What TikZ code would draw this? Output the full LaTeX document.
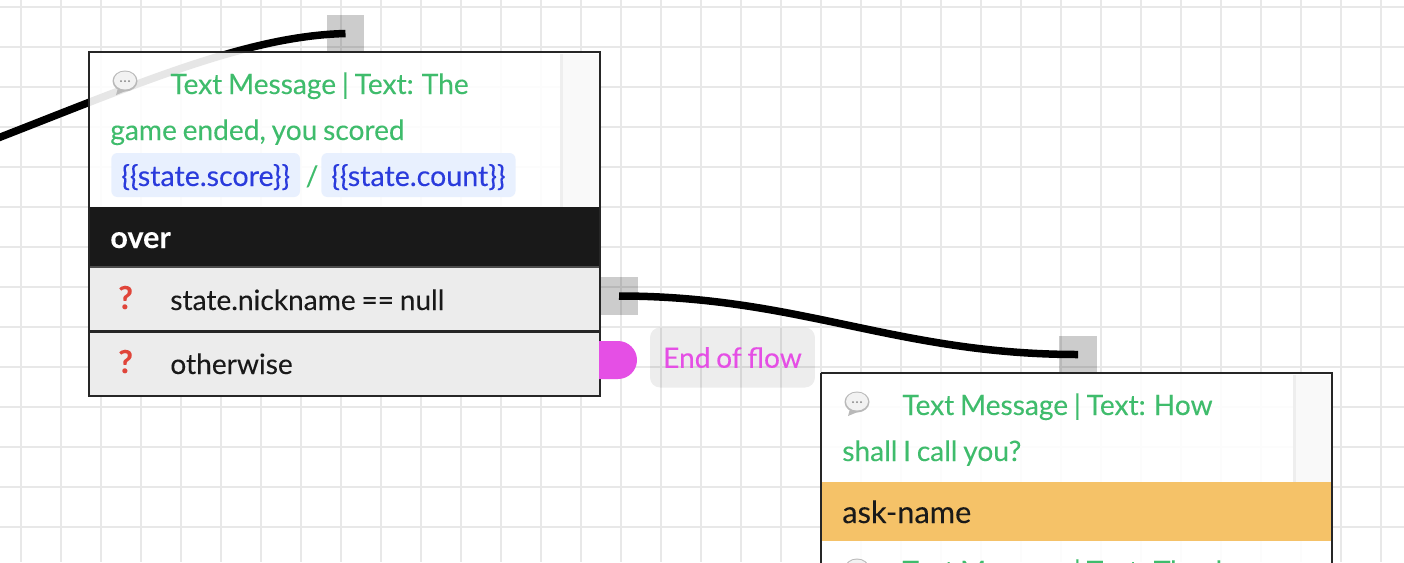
\documentclass[tikz,border=0pt]{standalone}
\usepackage{fontspec}
\setmainfont{Lato}[WordSpace=0.8, FakeBold=0.12]
\usetikzlibrary{positioning}
\definecolor{gridgray}{HTML}{E8E8E8}
\definecolor{rowgray}{HTML}{ECECEC}
\definecolor{stripgray}{HTML}{F9F9F9}
\definecolor{stripline}{HTML}{EEEEEE}
\definecolor{msggreen}{HTML}{3FBC6C}
\definecolor{varblue}{HTML}{2A3BDC}
\definecolor{chipblue}{HTML}{E8F0FE}
\definecolor{endpink}{HTML}{E54FE5}
\definecolor{askorange}{HTML}{F5C268}
\definecolor{qred}{HTML}{E0453A}
\tikzset{
    nodebox/.style={draw=black!85, line width=0.04cm},
    portbox/.style={fill=black, fill opacity=0.2, minimum width=0.76cm, minimum height=0.76cm, inner sep=0},
    wire/.style={line width=0.15cm, black},
    msgtext/.style={anchor=base west, inner sep=0, text=msggreen, font=\fontsize{16}{16}\selectfont},
    chip/.style={anchor=base west, fill=chipblue, rounded corners=0.12cm, text=varblue, inner xsep=0.2cm, inner ysep=0, text height=0.66cm, text depth=0.22cm, font=\fontsize{16.3}{16}\selectfont},
    darktext/.style={anchor=base west, inner sep=0, text=black!90, font=\fontsize{16}{16}\selectfont},
    qmark/.style={anchor=base west, inner sep=0, text=qred, font=\fontsize{18}{18}\selectfont\bfseries},
    bandtext/.style={anchor=base west, inner sep=0, font=\fontsize{17.5}{18}\selectfont},
    bubble/.pic={
        \fill[gray!55] (-7,7) -- (-9,14) -- (3,9) -- cycle;
        \fill[gray!55] (0,0) ellipse (12.5 and 10.5);
        \fill[gray!10] (0,-0.5) ellipse (11 and 9);
        \foreach \dx in {-4,0,4}
            \fill[gray] (\dx,0) circle (1);
    }
}
\begin{document}
\begin{tikzpicture}[x=0.02cm, y=-0.02cm]
    \useasboundingbox (0,0) rectangle (1404,562);
    \fill[white] (0,0) rectangle (1404,562);

    % Draw grid
    \foreach \gx in {0,...,34}
        \draw[gridgray, line width=0.05cm] (21+40*\gx,0) -- (21+40*\gx,562);
    \foreach \gy in {0,...,13}
        \draw[gridgray, line width=0.05cm] (0,7+40*\gy) -- (1404,7+40*\gy);

    % Draw ports
    \node[portbox] (in1) at (345.5,33.5) {};
    \node[portbox] (out1) at (619,296) {};
    \node[portbox] (in2) at (1078,354.5) {};
    \coordinate (prev) at (-20,145);

    % Draw connections
    \draw[wire] (in1.center) .. controls (245,36) and (135,85) .. (prev);
    \draw[wire] (out1.center) .. controls (800,296) and (896,354.5) .. (in2.center);

    % Draw first box
    \fill[white, opacity=0.9] (89,52) rectangle (600,207);
    \fill[stripgray] (560,54) rectangle (599,207);
    \fill[stripline] (560,54) rectangle (563,207);
    \fill[black!90] (89,207) rectangle (600,267);
    \fill[rowgray] (89,267) rectangle (600,396);
    \draw[black!85, line width=0.05cm] (89,331.5) -- (600,331.5);
    \draw[black!70, line width=0.03cm] (89,267) -- (600,267);
    \draw[nodebox] (89,52) rectangle (600,396);
    \pic at (125,81) {bubble};
    \node[msgtext] (title1) at (170,94) {Text Message | Text: The};
    \node[msgtext] (line1) at (110,140) {game ended, you scored};
    \node[chip] (score) at (111,186) {\{\{state.score\}\}};
    \node[msgtext, right=0.1cm of score.base east, anchor=base west] (slash) {/};
    \node[chip] (count) at (321,186) {\{\{state.count\}\}};
    \node[anchor=base west, inner sep=0, text=white, font=\fontsize{17.4}{18}\selectfont\bfseries] (over) at (110,248) {over};
    \node[qmark] (q1) at (118,309) {?};
    \node[darktext] (cond1) at (170,310) {state.nickname == null};
    \node[qmark] (q2) at (118,373) {?};
    \node[darktext] (cond2) at (170,374) {otherwise};

    % Draw end of flow
    \fill[endpink] (599,341) -- (618,341) arc (-90:90:19) -- (599,379) -- cycle;
    \node[fill=black, fill opacity=0.07, text opacity=1, rounded corners=0.2cm, minimum width=3.3cm, minimum height=1.2cm, inner sep=0, text=endpink, font=\fontsize{16}{16}\selectfont] (endflow) at (732.5,357.5) {End of flow};

    % Draw second box
    \fill[white, opacity=0.9] (821,373) rectangle (1332,562);
    \fill[stripgray] (1293,375) rectangle (1331,482);
    \fill[stripline] (1293,375) rectangle (1296,482);
    \fill[askorange] (821,482) rectangle (1332,541);
    \draw[nodebox] (821,373) -- (1332,373) -- (1332,572);
    \draw[nodebox] (821,373) -- (821,572);
    \pic at (857,402) {bubble};
    \node[msgtext] (title2) at (902,415) {Text Message | Text: How};
    \node[msgtext] (line2) at (842,461) {shall I call you?};
    \node[bandtext, text=black!90] (ask) at (842,523) {ask-name};
    \pic at (857,569) {bubble};
    \node[msgtext] (title3) at (902,581) {Text Message | Text: Thanks};
\end{tikzpicture}
\end{document}
